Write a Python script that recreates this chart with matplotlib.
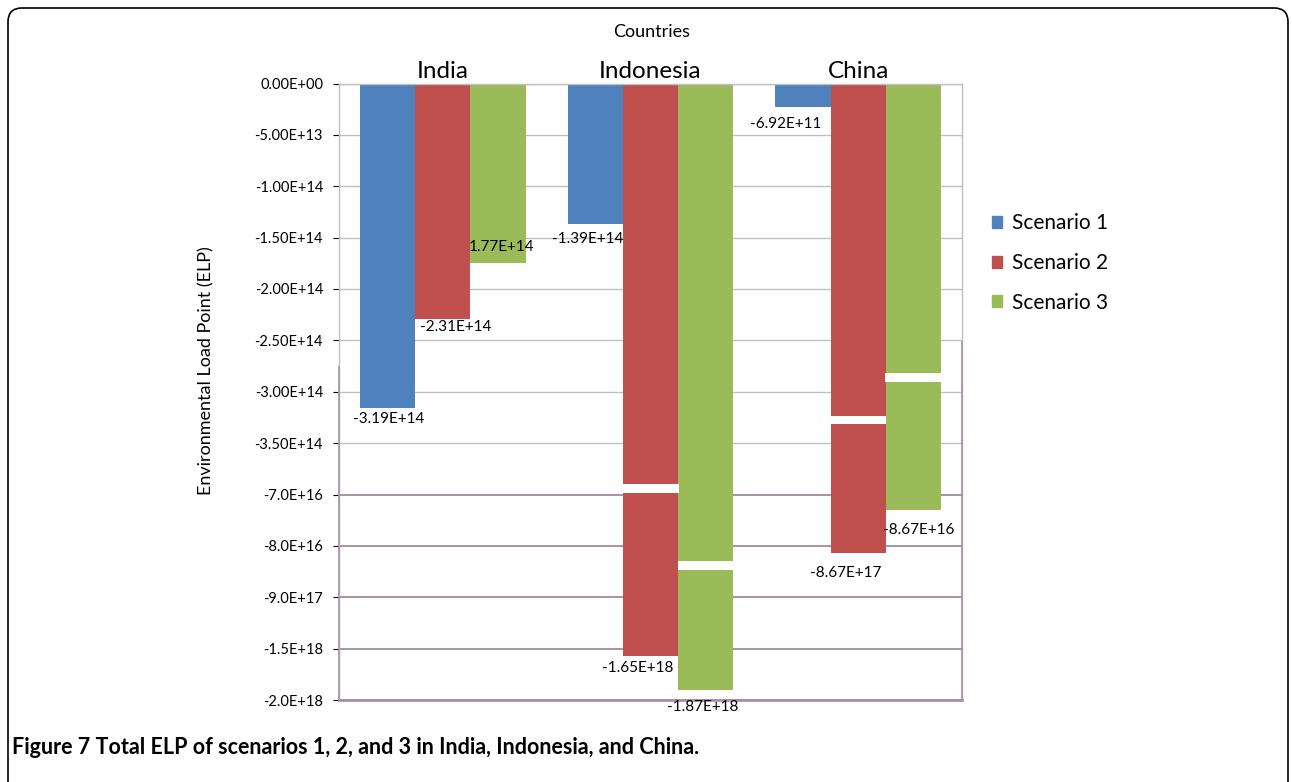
import matplotlib

matplotlib.use("Agg")
import matplotlib.pyplot as plt
import numpy as np
from matplotlib.patches import FancyBboxPatch, Patch

plt.rcParams["font.family"] = ["Lato", "DejaVu Sans"]

countries = ["India", "Indonesia", "China"]
scenarios = ["Scenario 1", "Scenario 2", "Scenario 3"]

# bar lengths as read against the broken y axis
scenario_1 = [-3.16e14, -1.37e14, -2.26e13]
scenario_2 = [-2.29e14, -1.569e18, -1.89e17]
scenario_3 = [-1.75e14, -1.90e18, -7.3e16]

# data labels printed in the figure (not always equal to the drawn length)
labels_1 = ["-3.19E+14", "-1.39E+14", "-6.92E+11"]
labels_2 = ["-2.31E+14", "-1.65E+18", "-8.67E+17"]
labels_3 = ["1.77E+14", "-1.87E+18", "-8.67E+16"]

tick_values = [0, -5e13, -1e14, -1.5e14, -2e14, -2.5e14, -3e14, -3.5e14,
               -7e16, -8e16, -9e17, -1.5e18, -2e18]
tick_labels = ["0.00E+00", "-5.00E+13", "-1.00E+14", "-1.50E+14", "-2.00E+14",
               "-2.50E+14", "-3.00E+14", "-3.50E+14", "-7.0E+16", "-8.0E+16",
               "-9.0E+17", "-1.5E+18", "-2.0E+18"]

colors = ["#4f81bd", "#c0504d", "#9bbb59"]
grey = "#bfbfbf"
purple = "#a98fab"

# the axis puts every tick at the same spacing, whatever the step
tick_idx = np.arange(len(tick_values), dtype=float)
vals_up = np.array(tick_values[::-1], dtype=float)


def forward(v):
    return -np.interp(v, vals_up, tick_idx[::-1])


def inverse(u):
    return np.interp(-np.asarray(u, dtype=float), tick_idx, np.array(tick_values, dtype=float))


# white cuts through some bars, (country, scenario, centre in tick units)
breaks = [(1, 1, 7.88), (1, 2, 9.38), (2, 1, 6.55), (2, 2, 5.72)]
# label offsets in pixels from the bar end
label_offsets = {
    (0, 0): (1, -11), (0, 1): (13, -8), (0, 2): (4, 16),
    (1, 0): (-8, -15), (1, 1): (-13, -12), (1, 2): (-3, -17),
    (2, 0): (-17, -17), (2, 1): (-12, -20), (2, 2): (5, -20),
}

fig = plt.figure(figsize=(12.92, 7.82), dpi=100)
ax = fig.add_axes([339 / 1292, 1 - 700 / 782, 623 / 1292, 616.5 / 782])
ax.set_yscale("function", functions=(forward, inverse))
ax.set_ylim(-2e18, 0)
ax.set_xlim(-0.5, 2.5)

x = np.arange(len(countries))
width = 0.266
series = [scenario_1, scenario_2, scenario_3]
texts = [labels_1, labels_2, labels_3]
for s, (vals, labs) in enumerate(zip(series, texts)):
    xs = x + (s - 1) * width
    ax.bar(xs, vals, width=width, color=colors[s], zorder=2, label=scenarios[s])
    for g in range(len(countries)):
        dx, dy = label_offsets[(g, s)]
        ax.annotate(labs[g], (xs[g], vals[g]), xytext=(dx, dy),
                    textcoords="offset pixels", ha="center", va="center",
                    fontsize=11, zorder=5)

for g, s, c in breaks:
    top = inverse(-(c - 0.085))
    bot = inverse(-(c + 0.085))
    ax.bar(x[g] + (s - 1) * width, top - bot, bottom=bot, width=width + 0.004,
           color="white", zorder=3)

for i, v in enumerate(tick_values):
    ax.axhline(v, color=grey if i < 8 else purple,
               lw=1.0 if i < 8 else 1.4, zorder=0)

ax.set_yticks(tick_values)
ax.set_yticklabels(tick_labels, fontsize=10.5)
ax.tick_params(axis="y", direction="out", length=4.5, pad=7)
for i, t in enumerate(ax.yaxis.get_major_ticks()):
    t.tick1line.set_color(grey if i < 6 else purple)
ax.yaxis.set_minor_locator(matplotlib.ticker.NullLocator())

ax.xaxis.tick_top()
ax.set_xticks(x)
ax.set_xticklabels(countries, fontsize=17.5)
ax.tick_params(axis="x", length=0, pad=1)
ax.set_xlabel("Countries", fontsize=13)
ax.xaxis.set_label_position("top")
ax.xaxis.set_label_coords((652 - 339) / 623, 1 + (83.5 - 32) / 616.5)
ax.xaxis.label.set_va("center")

for side in ["top", "left", "right"]:
    ax.spines[side].set_color(grey)
    ax.spines[side].set_linewidth(1.0)
ax.spines["bottom"].set_color(purple)
ax.spines["bottom"].set_linewidth(2.0)
ax.plot([0, 0], [0, 0.54], transform=ax.transAxes, color=purple, lw=1.2, clip_on=False, zorder=4)
ax.plot([1, 1], [0, 0.58], transform=ax.transAxes, color=purple, lw=1.2, clip_on=False, zorder=4)

fig.text(206 / 1292, 1 - 371 / 782, "Environmental Load Point (ELP)", rotation=90,
         ha="center", va="center", fontsize=13)

handles = [Patch(color=c) for c in colors]
fig.legend(handles, scenarios, loc="center left",
           bbox_to_anchor=(992 / 1292, 1 - 263 / 782), frameon=False,
           fontsize=15, handlelength=0.5, handleheight=0.5,
           handletextpad=0.45, labelspacing=0.95, borderpad=0, borderaxespad=0)

fig.text(12 / 1292, 1 - 747 / 782,
         "Figure 7 Total ELP of scenarios 1, 2, and 3 in India, Indonesia, and China.",
         fontsize=15.5, fontweight="bold", ha="left", va="center")

frame = FancyBboxPatch((0.08, -0.5), 12.8, 8.24, boxstyle="round,pad=0,rounding_size=0.14",
                       transform=fig.dpi_scale_trans, fill=False, ec="black", lw=1.2)
fig.add_artist(frame)

fig.savefig("out.png", dpi=100)
